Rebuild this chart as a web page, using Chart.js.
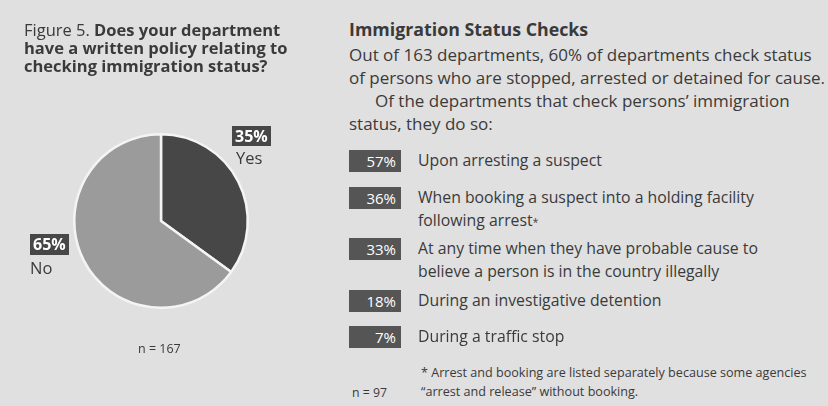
<!DOCTYPE html>
<html>
<head>
<meta charset="utf-8">
<script src="https://cdn.jsdelivr.net/npm/chart.js@4.4.0/dist/chart.umd.min.js"></script>
<style>
  html, body { margin: 0; padding: 0; }
  body { width: 828px; height: 406px; background: #e0e0e0; position: relative; overflow: hidden;
         font-family: "Open Sans", "Noto Sans", sans-serif; color: #3a3a3a; }
  #pieWrap { position: absolute; left: 0; top: 0; width: 322px; height: 406px; }
  .t { position: absolute; white-space: nowrap; }
  .box { position: absolute; background: #555; color: #fff; text-align: right; box-sizing: border-box; }
</style>
</head>
<body>
<div id="pieWrap"><canvas id="pie"></canvas></div>
<div id="text"></div>
<script>
// pie data
var pieLabels = ["Yes", "No"];
var pieValues = [35, 65];
var pieColors = ["#474747", "#9b9b9b"];

// check list data
var checkValues = [57, 36, 33, 18, 7];
var checkLabels = [
  ["Upon arresting a suspect"],
  ["When booking a suspect into a holding facility", "following arrest<span style='font-size:10px'>*</span>"],
  ["At any time when they have probable cause to", "believe a person is in the country illegally"],
  ["During an investigative detention"],
  ["During a traffic stop"]
];

function addText(html, x, y, size, extra) {
  var d = document.createElement("div");
  d.className = "t";
  d.innerHTML = html;
  d.style.left = x + "px";
  d.style.top = y + "px";
  d.style.fontSize = size + "px";
  d.style.lineHeight = "1";
  if (extra) Object.assign(d.style, extra);
  document.getElementById("text").appendChild(d);
  return d;
}

// left title
addText('Figure 5. <b>Does your department</b>', 24, 22, 16.5);
addText('<b>have a written policy relating to</b>', 24, 40, 16.5);
addText('<b>checking immigration status?</b>', 24, 58, 16.5);

// pie labels
var tag = { background: "#474747", color: "#fff", fontWeight: "bold", padding: "2px 3px" };
addText('35%', 232, 126, 16, tag);
addText('Yes', 236, 150, 16.5);
addText('65%', 30, 234, 16, Object.assign({}, tag, { padding: "2px 3px 3px 3px" }));
addText('No', 30, 260, 16.5);
addText('n = 167', 138, 343, 12.5);

// right panel
addText('<b>Immigration Status Checks</b>', 349, 21, 17.8);
var bodyLines = [
  addText('Out of 163 departments, 60% of departments check status', 349, 46, 16),
  addText('of persons who are stopped, arrested or detained for cause.', 349, 69, 16),
  addText('Of the departments that check persons\u2019 immigration', 375, 92, 16),
  addText('status, they do so:', 349, 115, 16)
];
// first line runs from 349 to about 812 in the picture
var w0 = bodyLines[0].getBoundingClientRect().width;
var bodySize = 16 * 463 / w0;
bodyLines.forEach(function (el) { el.style.fontSize = bodySize.toFixed(2) + "px"; });

var rowTops = [150, 187, 238, 290, 326];
checkValues.forEach(function (v, i) {
  var b = addText(v + '%', 349, rowTops[i], 15, { color: "#fff" });
  b.className = "box";
  b.style.width = "52px";
  b.style.height = "22px";
  b.style.lineHeight = "22px";
  b.style.paddingRight = "5px";
  checkLabels[i].forEach(function (line, j) {
    addText(line, 418, rowTops[i] + 3 + j * 23, 15.8);
  });
});

addText('* Arrest and booking are listed separately because some agencies', 421, 367, 12.6);
addText('\u201Carrest and release\u201D without booking.', 421, 386, 12.6);
addText('n = 97', 352, 387, 12.3);

var canvas = document.getElementById("pie");
var chart = new Chart(canvas, {
  type: "pie",
  data: {
    labels: pieLabels,
    datasets: [{
      data: pieValues,
      backgroundColor: pieColors,
      borderColor: "#f4f4f4",
      borderWidth: 2.5
    }]
  },
  options: {
    responsive: true,
    maintainAspectRatio: false,
    animation: false,
    layout: { padding: { top: 133, bottom: 97, left: 0, right: 0 } },
    plugins: {
      legend: { display: false },
      tooltip: { enabled: false }
    }
  }
});
</script>
</body>
</html>
